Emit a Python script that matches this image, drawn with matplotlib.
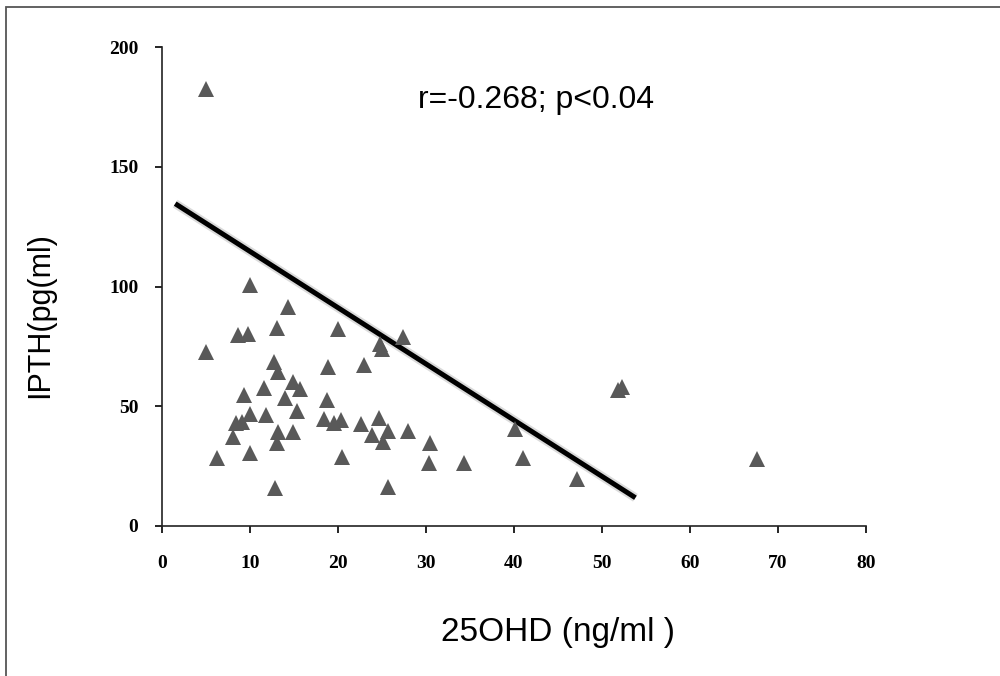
import numpy as np
import matplotlib
matplotlib.use("Agg")
import matplotlib.pyplot as plt
from matplotlib.patches import Rectangle

# 25OHD (ng/ml) vs IPTH (pg/ml)
ohd = [5.0, 5.0, 10.0, 8.6, 9.8, 13.1, 14.3, 20.0, 27.4, 24.8, 25.0,
       12.7, 13.2, 18.9, 23.0, 11.6, 14.9, 15.7, 9.3, 14.0, 18.8, 15.3,
       10.0, 11.8, 8.4, 9.1, 8.1, 13.2, 13.1, 14.9, 6.3, 10.0, 12.8,
       18.4, 19.5, 20.3, 22.6, 24.7, 23.9, 25.7, 25.1, 28.0, 20.5, 30.5,
       30.3, 34.3, 25.7, 40.1, 41.0, 47.2, 51.8, 52.3, 67.6]
pth = [182.6, 72.7, 100.7, 79.8, 80.2, 82.7, 91.5, 82.3, 79.0, 76.1, 74.0,
       68.5, 64.4, 66.4, 67.3, 57.7, 60.2, 57.2, 54.7, 53.5, 52.7, 48.1,
       46.8, 46.4, 43.0, 43.5, 37.2, 39.3, 34.7, 39.3, 28.4, 30.5, 15.9,
       44.7, 43.0, 44.3, 42.6, 45.1, 38.0, 39.7, 35.1, 39.7, 28.8, 34.7,
       26.3, 26.3, 16.3, 40.5, 28.4, 19.6, 56.8, 58.1, 28.0]

# fitted line as drawn in the figure
fit_x = [1.5, 53.8]
fit_intercept = 138.2
fit_slope = -2.35

xticks = [0, 10, 20, 30, 40, 50, 60, 70, 80]
yticks = [0, 50, 100, 150, 200]

fig = plt.figure(figsize=(10, 6.76), dpi=100)
fig.patches.append(Rectangle((0.006, -0.05), 1.1, 1.04, transform=fig.transFigure,
                             fill=False, edgecolor="#555555", linewidth=1.3))

ax = fig.add_axes([0.162, 0.222, 0.704, 0.708])

fx = np.array(fit_x)
fy = fit_intercept + fit_slope * fx
ax.plot(fx, fy, color="#999999", linewidth=6.5, alpha=0.35, solid_capstyle="butt")
ax.plot(fx, fy, color="black", linewidth=3.6, solid_capstyle="butt")

ax.plot(ohd, pth, linestyle="none", marker="^", markersize=12,
        color="#595959", markeredgewidth=0)

ax.set_xlim(0, 80)
ax.set_ylim(0, 200)
ax.set_xticks(xticks)
ax.set_yticks(yticks)

for s in ["top", "right"]:
    ax.spines[s].set_visible(False)
for s in ["left", "bottom"]:
    ax.spines[s].set_linewidth(1.2)
    ax.spines[s].set_color("#222222")

ax.tick_params(axis="x", direction="out", length=5, width=1.2, pad=16)
ax.tick_params(axis="y", direction="out", length=5, width=1.2, pad=12)
for lab in ax.get_xticklabels() + ax.get_yticklabels():
    lab.set_fontfamily("Liberation Serif")
    lab.set_fontweight("bold")
    lab.set_fontsize(14)

ax.set_xlabel("25OHD (ng/ml )", fontsize=24, family="Liberation Sans")
ax.xaxis.set_label_coords(0.5625, -0.19)
ax.set_ylabel("IPTH(pg(ml)", fontsize=22, family="Liberation Sans")
ax.yaxis.set_label_coords(-0.152, 0.44)

ax.text(0.531, 0.89, "r=-0.268; p<0.04", transform=ax.transAxes, ha="center",
        va="center", fontsize=23, family="Liberation Sans")

fig.savefig("out.png", dpi=100)
